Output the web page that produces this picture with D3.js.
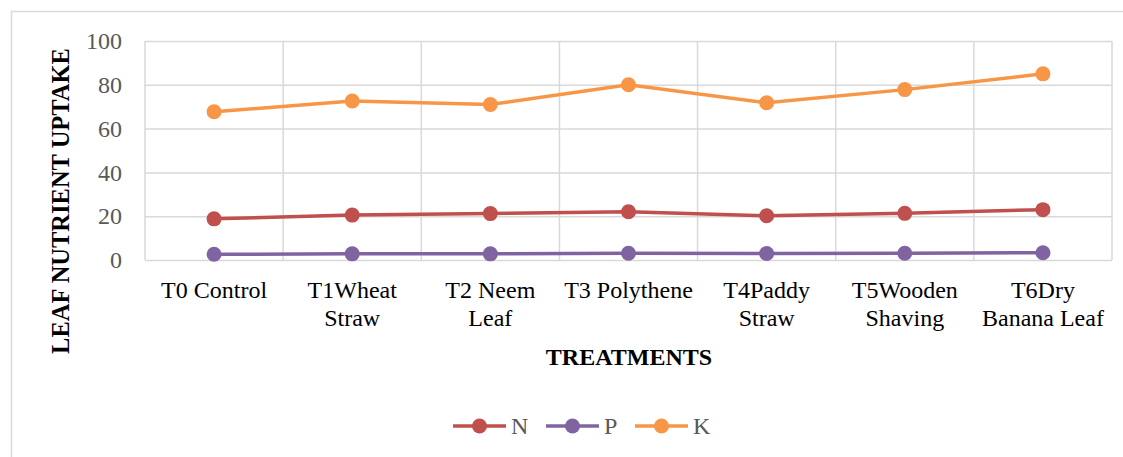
<!DOCTYPE html>
<html lang="en">
<head>
<meta charset="utf-8">
<title>Leaf Nutrient Uptake</title>
<script src="https://cdn.jsdelivr.net/npm/d3@7"></script>
<style>
    body { margin: 0; background: #fff; }
    svg { display: block; }
    svg text { font-family: 'Liberation Serif', 'DejaVu Serif', serif; }
    .grid line { stroke: #d9d9d9; stroke-width: 1.5px; }
    .grid path { display: none; }
    .y.axis text { fill: #595959; font-size: 24px; }
    .x.axis text { fill: #000; font-size: 24px; }
    .axis path, .axis line { display: none; }
    .title { font-weight: bold; fill: #000; }
    .legend text { fill: #595959; font-size: 24px; }
</style>
</head>
<body>
<script>
    // data
    var treatments = [
        ['T0 Control'],
        ['T1Wheat', 'Straw'],
        ['T2 Neem', 'Leaf'],
        ['T3 Polythene'],
        ['T4Paddy', 'Straw'],
        ['T5Wooden', 'Shaving'],
        ['T6Dry', 'Banana Leaf']
    ];
    var nValues = [18.8, 20.5, 21.2, 22.0, 20.2, 21.3, 23.0];
    var pValues = [2.6, 2.8, 2.8, 3.1, 3.0, 3.1, 3.3];
    var kValues = [67.7, 72.6, 71.0, 80.0, 71.8, 77.8, 85.0];
    var seriesNames = ['N', 'P', 'K'];
    var seriesColors = ['#C0504D', '#8064A2', '#F79646'];
    var yTicks = [0, 20, 40, 60, 80, 100];

    var series = [nValues, pValues, kValues].map(function(v, i) {
        return { name: seriesNames[i], color: seriesColors[i], values: v };
    });

    var W = 1123, H = 457;
    var margin = { top: 41, right: 11, bottom: 197, left: 145 };
    var width = W - margin.left - margin.right,
        height = H - margin.top - margin.bottom;

    var svg = d3.select('body').append('svg')
        .attr('width', W)
        .attr('height', H);

    // chart area border
    svg.append('rect')
        .attr('x', 11.5).attr('y', 11.5)
        .attr('width', W).attr('height', H)
        .attr('fill', 'none')
        .attr('stroke', '#d9d9d9')
        .attr('stroke-width', 1.5);

    var g = svg.append('g')
        .attr('transform', 'translate(' + margin.left + ',' + margin.top + ')');

    var idx = d3.range(treatments.length);
    var x = d3.scaleBand().domain(idx).range([0, width]);
    var y = d3.scaleLinear().domain([0, 100]).range([height, 0]);

    // horizontal gridlines
    g.append('g')
        .attr('class', 'grid')
        .call(d3.axisLeft(y).tickValues(yTicks).tickSize(-width).tickFormat(''));

    // vertical gridlines at category borders
    g.append('g').attr('class', 'grid')
        .selectAll('line')
        .data(d3.range(treatments.length + 1))
        .enter().append('line')
        .attr('x1', function(d) { return d * x.step(); })
        .attr('x2', function(d) { return d * x.step(); })
        .attr('y1', 0)
        .attr('y2', height);

    // y axis labels
    g.append('g')
        .attr('class', 'y axis')
        .call(d3.axisLeft(y).tickValues(yTicks).tickSize(0).tickPadding(23));

    // x axis labels (wrapped)
    var xAxis = g.append('g')
        .attr('class', 'x axis')
        .attr('transform', 'translate(0,' + height + ')')
        .call(d3.axisBottom(x).tickSize(0).tickFormat(''));

    xAxis.selectAll('.tick').each(function(d) {
        var t = d3.select(this).append('text')
            .attr('text-anchor', 'middle')
            .attr('y', 38);
        treatments[d].forEach(function(line, j) {
            t.append('tspan')
                .attr('x', 0)
                .attr('dy', j === 0 ? 0 : 27.5)
                .text(line);
        });
    });

    // lines and markers
    var line = d3.line()
        .x(function(d, i) { return x(i) + x.bandwidth() / 2; })
        .y(function(d) { return y(d); });

    var sg = g.selectAll('.series')
        .data(series)
        .enter().append('g')
        .attr('class', 'series');

    sg.append('path')
        .attr('d', function(d) { return line(d.values); })
        .attr('fill', 'none')
        .attr('stroke', function(d) { return d.color; })
        .attr('stroke-width', 3.5);

    sg.selectAll('circle')
        .data(function(d) { return d.values.map(function(v) { return { v: v, c: d.color }; }); })
        .enter().append('circle')
        .attr('cx', function(d, i) { return x(i) + x.bandwidth() / 2; })
        .attr('cy', function(d) { return y(d.v); })
        .attr('r', 7.5)
        .attr('fill', function(d) { return d.c; });

    // axis titles
    svg.append('text')
        .attr('class', 'title')
        .attr('transform', 'translate(69,201) rotate(-90)')
        .attr('text-anchor', 'middle')
        .style('font-size', '24.5px')
        .text('LEAF NUTRIENT UPTAKE');

    svg.append('text')
        .attr('class', 'title')
        .attr('x', 629)
        .attr('y', 365)
        .attr('text-anchor', 'middle')
        .style('font-size', '24px')
        .text('TREATMENTS');

    // legend
    var legendX = [453, 546, 635];
    var legend = svg.append('g').attr('class', 'legend');
    var items = legend.selectAll('g')
        .data(series)
        .enter().append('g')
        .attr('transform', function(d, i) { return 'translate(' + legendX[i] + ',426)'; });
    items.append('line')
        .attr('x1', 0).attr('x2', 53)
        .attr('stroke', function(d) { return d.color; })
        .attr('stroke-width', 3.5);
    items.append('circle')
        .attr('cx', 26.5).attr('r', 7.5)
        .attr('fill', function(d) { return d.color; });
    items.append('text')
        .attr('x', 58).attr('y', 8)
        .text(function(d) { return d.name; });
</script>
</body>
</html>
